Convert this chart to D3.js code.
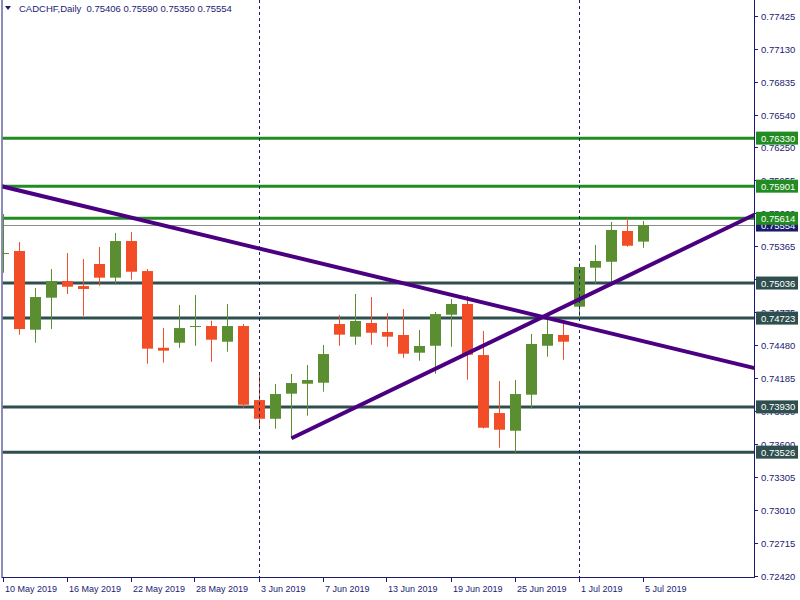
<!DOCTYPE html>
<html><head><meta charset="utf-8">
<script src="https://cdn.jsdelivr.net/npm/d3@7"></script>
<style>body{margin:0;background:#fff}svg{display:block}text{font-family:"Liberation Sans",Arial,sans-serif}</style>
</head><body>
<script>
const symbol = "CADCHF,Daily";
const dates = ["10 May","13 May","14 May","15 May","16 May","17 May","20 May","21 May","22 May","23 May","24 May","27 May","28 May","29 May","30 May","31 May","3 Jun","4 Jun","5 Jun","6 Jun","7 Jun","10 Jun","11 Jun","12 Jun","13 Jun","14 Jun","17 Jun","18 Jun","19 Jun","20 Jun","21 Jun","24 Jun","25 Jun","26 Jun","27 Jun","28 Jun","1 Jul","2 Jul","3 Jul","4 Jul","5 Jul"];
const open  = [0.75298,0.75322,0.74619,0.74905,0.75054,0.75009,0.75206,0.75084,0.75411,0.75143,0.74458,0.74503,0.74648,0.74652,0.74512,0.74652,0.73991,0.73824,0.74048,0.74137,0.74146,0.74670,0.74557,0.74679,0.74599,0.74572,0.74414,0.74476,0.74753,0.74849,0.74393,0.73875,0.73717,0.74039,0.74476,0.74572,0.74825,0.75173,0.75226,0.75501,0.75406];
const high  = [0.75652,0.75402,0.74992,0.75161,0.75304,0.75250,0.75358,0.75483,0.75492,0.75161,0.74634,0.74840,0.74929,0.74700,0.74849,0.74670,0.74241,0.74134,0.74224,0.74304,0.74483,0.74751,0.74938,0.74911,0.74768,0.74804,0.74617,0.74777,0.74893,0.74920,0.74608,0.74161,0.74170,0.74581,0.74735,0.74688,0.75212,0.75376,0.75581,0.75617,0.75590];
const low   = [0.75128,0.74575,0.74503,0.74625,0.74938,0.74744,0.75012,0.75021,0.75066,0.74316,0.74325,0.74458,0.74476,0.74333,0.74423,0.73923,0.73741,0.73735,0.73646,0.73851,0.74066,0.74476,0.74485,0.74485,0.74467,0.74369,0.74342,0.74226,0.74467,0.74173,0.73737,0.73566,0.73521,0.73914,0.74378,0.74351,0.74717,0.75030,0.75039,0.75360,0.75350];
const close = [0.75304,0.74625,0.74911,0.75054,0.75003,0.74983,0.75084,0.75411,0.75137,0.74450,0.74432,0.74634,0.74652,0.74530,0.74652,0.73949,0.73824,0.74045,0.74143,0.74170,0.74402,0.74575,0.74697,0.74592,0.74557,0.74405,0.74474,0.74759,0.74849,0.74396,0.73744,0.73726,0.74045,0.74492,0.74581,0.74512,0.75179,0.75233,0.75510,0.75369,0.75554];

const priceTicks = [0.77425,0.77130,0.76835,0.76540,0.76250,0.75955,0.75660,0.75365,0.75070,0.74775,0.74480,0.74185,0.73890,0.73600,0.73305,0.73010,0.72715,0.72420];
const dateTickIdx = [0,4,8,12,16,20,24,28,32,36,40];
const dateTickLabels = ["10 May 2019","16 May 2019","22 May 2019","28 May 2019","3 Jun 2019","7 Jun 2019","13 Jun 2019","19 Jun 2019","25 Jun 2019","1 Jul 2019","5 Jul 2019"];
const separatorIdx = [16,36];

const greenLevels = [0.76330,0.75901,0.75614];
const darkLevels  = [0.75036,0.74723,0.73930,0.73526];
const lastPrice = 0.75554;
// trend lines: [startIdx, startPrice, refIdx, refPrice]
const trendDown = [-2, 0.75965, 40, 0.74516];
const trendUp   = [18, 0.73650, 40, 0.75168];

const W = 800, H = 600;
const L = 2.5, R = 754, T = 0, B = 577;
const svg = d3.select("body").append("svg").attr("width", W).attr("height", H);

const x = d3.scaleLinear().domain([0, 40]).range([3.5, 643.5]);
const y = d3.scaleLinear().domain([0.72420, 0.77425]).range([576, 15.5]);
const navy = "#1b1b72";
const fmt = d3.format(".5f");

svg.append("defs").append("clipPath").attr("id","clip")
  .append("rect").attr("x", L).attr("y", T).attr("width", R - L).attr("height", B - T);
const plot = svg.append("g").attr("clip-path","url(#clip)");

// period separators
separatorIdx.forEach(i => {
  svg.append("line").attr("x1", Math.round(x(i))-0.5).attr("x2", Math.round(x(i))-0.5)
    .attr("y1", 0).attr("y2", B + 5).attr("stroke", navy).attr("stroke-width", 1)
    .attr("stroke-dasharray", "3,3");
});

// current price line
plot.append("line").attr("x1", L).attr("x2", R).attr("y1", Math.round(y(lastPrice))+0.5).attr("y2", Math.round(y(lastPrice))+0.5)
  .attr("stroke", "#8c8c8c").attr("stroke-width", 1);

// horizontal levels
plot.selectAll(".gl").data(greenLevels).join("line")
  .attr("x1", L).attr("x2", R).attr("y1", d => y(d)).attr("y2", d => y(d))
  .attr("stroke", "#228B22").attr("stroke-width", 3);
plot.selectAll(".dl").data(darkLevels).join("line")
  .attr("x1", L).attr("x2", R).attr("y1", d => y(d)).attr("y2", d => y(d))
  .attr("stroke", "#2F4F4F").attr("stroke-width", 3);

// candles
const idx = d3.range(dates.length);
const bw = 11;
const cg = plot.append("g");
cg.selectAll("line.w").data(idx).join("line")
  .attr("x1", i => x(i)).attr("x2", i => x(i))
  .attr("y1", i => y(high[i])).attr("y2", i => y(low[i]))
  .attr("stroke", i => close[i] >= open[i] ? "#5b8e30" : "#f24d27").attr("stroke-width", 1);
cg.selectAll("rect.b").data(idx).join("rect")
  .attr("x", i => x(i) - bw/2)
  .attr("y", i => y(Math.max(open[i], close[i])))
  .attr("width", bw)
  .attr("height", i => Math.max(1, Math.abs(y(open[i]) - y(close[i]))))
  .attr("fill", i => close[i] >= open[i] ? "#5b8e30" : "#f24d27");

// trend lines
function trend(t, col) {
  const slope = (t[3] - t[1]) / (t[2] - t[0]);
  const endIdx = 60;
  plot.append("line")
    .attr("x1", x(t[0])).attr("y1", y(t[1]))
    .attr("x2", x(endIdx)).attr("y2", y(t[1] + slope * (endIdx - t[0])))
    .attr("stroke", col).attr("stroke-width", 4);
}
trend(trendDown, "#4B0082");
trend(trendUp, "#4B0082");

// frame
svg.append("line").attr("x1", L-0.5).attr("x2", L-0.5).attr("y1", 0).attr("y2", B).attr("stroke", navy);
svg.append("line").attr("x1", R+0.5).attr("x2", R+0.5).attr("y1", 0).attr("y2", B+0.5).attr("stroke", navy);
svg.append("line").attr("x1", L-1).attr("x2", R+1).attr("y1", B+0.5).attr("y2", B+0.5).attr("stroke", navy);

// right axis
const ra = svg.append("g");
priceTicks.forEach(p => {
  const yy = Math.round(y(p)) + 0.5;
  ra.append("line").attr("x1", R).attr("x2", R + 4).attr("y1", yy).attr("y2", yy).attr("stroke", navy);
  ra.append("text").attr("x", 761).attr("y", yy + 3.5).attr("font-size", "9.5px").attr("fill", navy).text(fmt(p));
});

// price label boxes
function box(p, col) {
  const yy = y(p);
  ra.append("rect").attr("x", 756).attr("y", yy - 6.5).attr("width", 42).attr("height", 13).attr("fill", col);
  ra.append("text").attr("x", 761).attr("y", yy + 3.5).attr("font-size", "9.5px").attr("fill", "#fff").text(fmt(p));
}
box(lastPrice, "#1b1b6e");
greenLevels.forEach(p => box(p, "#228B22"));
darkLevels.forEach(p => box(p, "#2F4F4F"));

// bottom axis
dateTickIdx.forEach((i, k) => {
  const xx = Math.round(x(i)) - 0.5;
  svg.append("line").attr("x1", xx).attr("x2", xx).attr("y1", B).attr("y2", B + 5).attr("stroke", navy);
  svg.append("text").attr("x", xx + 1.5).attr("y", 592).attr("font-size", "9px").attr("fill", navy).text(dateTickLabels[k]);
});

// header
svg.append("path").attr("d", "M5,6 L11,6 L8,10 Z").attr("fill", navy);
svg.append("text").attr("x", 19).attr("y", 12).attr("font-size", "9.5px").attr("fill", navy)
  .attr("xml:space", "preserve")
  .text(symbol + "  " + [open[40], high[40], low[40], close[40]].map(fmt).join(" "));
</script>
</body></html>
